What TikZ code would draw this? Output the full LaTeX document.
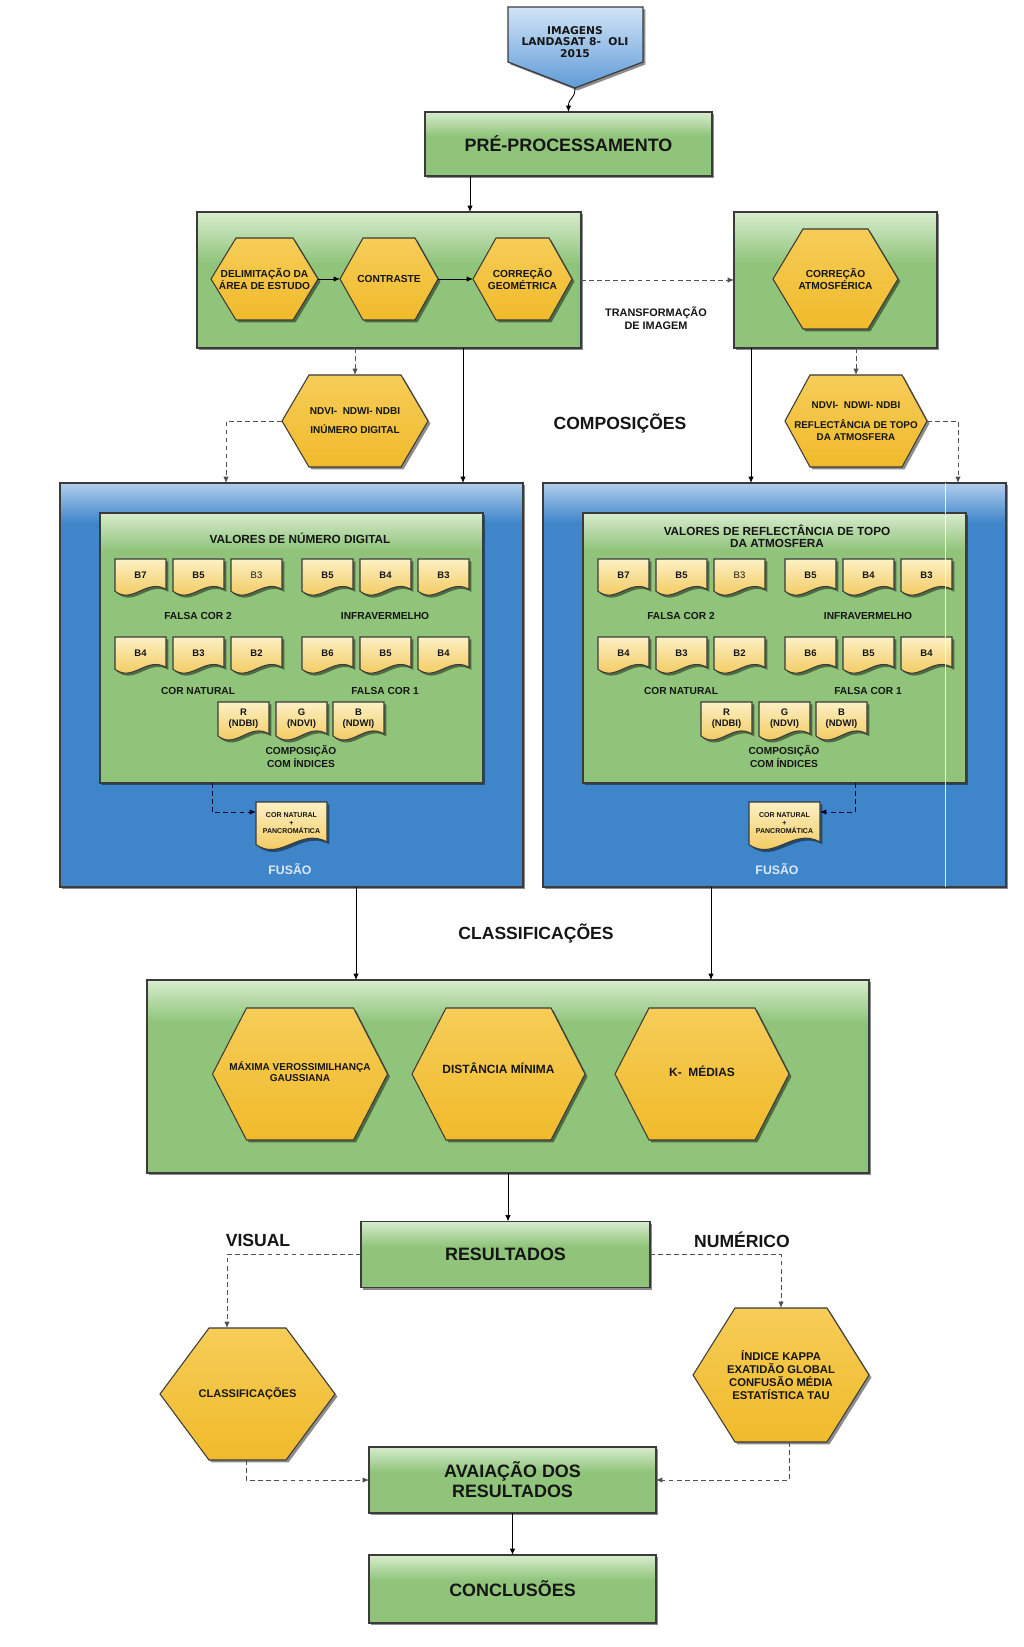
\documentclass[tikz,border=0pt]{standalone}
\usepackage{fontspec}
\setmainfont{Liberation Sans}
\newfontfamily\verdfont{DejaVu Sans}
\usetikzlibrary{shadows,arrows.meta}
\definecolor{gtop}{HTML}{D7ECCD}
\definecolor{gmid}{HTML}{8FC47A}
\definecolor{btop}{HTML}{B0CDEC}
\definecolor{bmid}{HTML}{3E85C9}
\definecolor{htop}{HTML}{F6CD58}
\definecolor{hbot}{HTML}{F0BA2A}
\definecolor{dtop}{HTML}{FCF0C4}
\definecolor{dbot}{HTML}{F1C24A}
\definecolor{edge}{HTML}{3B3B3B}
\definecolor{ibtop}{HTML}{D2E4F6}
\definecolor{ibbot}{HTML}{5F9BD8}
\definecolor{txt}{HTML}{151515}
\definecolor{fus}{HTML}{DCEAF8}
\definecolor{dgray}{HTML}{505050}
\pgfdeclareverticalshading{gshA}{100bp}{color(0bp)=(gmid); color(25bp)=(gmid); color(56bp)=(gmid); color(75bp)=(gtop); color(100bp)=(gtop)}
\pgfdeclareverticalshading{gshB}{100bp}{color(0bp)=(gmid); color(25bp)=(gmid); color(64bp)=(gmid); color(75bp)=(gtop); color(100bp)=(gtop)}
\pgfdeclareverticalshading{gshC}{100bp}{color(0bp)=(gmid); color(25bp)=(gmid); color(68bp)=(gmid); color(75bp)=(gtop); color(100bp)=(gtop)}
\pgfdeclareverticalshading{bsh}{100bp}{color(0bp)=(bmid); color(25bp)=(bmid); color(70bp)=(bmid); color(75bp)=(btop); color(100bp)=(btop)}
\newcommand{\myfimg}{\verdfont\bfseries\fontsize{6.1}{6.4}\selectfont}
\newcommand{\myfbig}{\bfseries\fontsize{10.2}{11.4}\selectfont}
\newcommand{\myfhex}{\bfseries\fontsize{5.8}{6.3}\selectfont}
\newcommand{\myftr}{\bfseries\fontsize{6.2}{7.2}\selectfont}
\newcommand{\myfsec}{\bfseries\fontsize{10}{12}\selectfont}
\newcommand{\myftit}{\bfseries\fontsize{6.7}{7}\selectfont}
\newcommand{\myfdoc}{\bfseries\fontsize{5.4}{6.6}\selectfont}
\newcommand{\myfgl}{\bfseries\fontsize{5.8}{6.2}\selectfont}
\newcommand{\myffd}{\bfseries\fontsize{4}{4.6}\selectfont}
\newcommand{\hexn}[8][]{%
  \path[hexsty] ({#3-#5/2},{#4}) -- ({#3-#5/2+#7},{#4-#6/2}) -- ({#3+#5/2-#7},{#4-#6/2}) -- ({#3+#5/2},{#4}) -- ({#3+#5/2-#7},{#4+#6/2}) -- ({#3-#5/2+#7},{#4+#6/2}) -- cycle;
  \node[hextxt,bw={#5},bh={#6},#1] (#2) at ({#3},{#4}) {#8};}
\newcommand{\docn}[7][]{%
  \path[docsty] ({#3},{#4}) -- ({#3+#5},{#4}) -- ({#3+#5},{#4+0.8*#6}) .. controls ({#3+0.62*#5},{#4+0.5*#6}) and ({#3+0.35*#5},{#4+1.2*#6}) .. ({#3},{#4+0.85*#6}) -- cycle;
  \node[doctxt,bw={#5},bh={0.84*#6},#1] (#2) at ({#3+#5/2},{#4+0.42*#6}) {#7};}
\newcommand{\bandset}[2]{%
  \foreach \ii/\xx/\yy/\tx in {a/115/559/B7, b/173/559/B5, c/231/559/{\mdseries B3}, d/302/559/B5, e/360/559/B4, f/418/559/B3, g/115/637/B4, h/173/637/B3, i/231/637/B2, j/302/637/B6, k/360/637/B5, l/418/637/B4}
    {\docn{#1\ii}{\xx+#2}{\yy}{51}{38}{\tx}}
  \docn{#1r}{218+#2}{702}{51}{40}{R\\(NDBI)}
  \docn{#1s}{276+#2}{702}{51}{40}{G\\(NDVI)}
  \docn{#1t}{333+#2}{702}{51}{40}{B\\(NDWI)}
  \node[lbl,font=\myfgl] (#1fc2) at ({198+#2},616) {FALSA COR 2};
  \node[lbl,font=\myfgl] (#1inf) at ({385+#2},616) {INFRAVERMELHO};
  \node[lbl,font=\myfgl] (#1cn) at ({198+#2},691) {COR NATURAL};
  \node[lbl,font=\myfgl] (#1fc1) at ({385+#2},691) {FALSA COR 1};
  \node[lbl,font=\myfgl] (#1cmp) at ({301+#2},756.5) {COMPOSIÇÃO\\COM ÍNDICES};}
\begin{document}
\begin{tikzpicture}[x=0.02cm,y=-0.02cm,
  bw/.style={minimum width={(#1)*0.02cm}},
  bh/.style={minimum height={(#1)*0.02cm}},
  shad/.style={drop shadow={shadow xshift=1.4pt,shadow yshift=-1.4pt,opacity=0.45,fill=black}},
  gbox/.style={draw=edge,line width=0.7pt,shade,shading=gshA,shad,inner sep=0pt,outer sep=0pt,align=center,text=txt},
  gboxB/.style={gbox,shading=gshB},
  gboxC/.style={gbox,shading=gshC},
  bbox/.style={draw=edge,line width=0.7pt,shade,shading=bsh,shad,inner sep=0pt,outer sep=0pt},
  banner/.style={draw=edge,line width=0.7pt,top color=ibtop,bottom color=ibbot,shad},
  hexsty/.style={draw=edge,line width=0.6pt,top color=htop,bottom color=hbot,shad},
  hextxt/.style={inner sep=0pt,outer sep=0pt,align=center,text=txt,font=\myfhex},
  docsty/.style={draw=edge,line width=0.6pt,top color=dtop,bottom color=dbot,shad},
  doctxt/.style={inner sep=0pt,outer sep=0pt,align=center,text=txt,font=\myfdoc},
  lbl/.style={inner sep=0pt,outer sep=0pt,align=center,text=txt},
  conn/.style={line width=0.5pt,draw=black,-{Latex[length=3.6pt,width=3pt]}},
  dconn/.style={conn,draw=dgray,dash pattern=on 2.6pt off 2pt}]
\fill[white] (0,0) rectangle (1024,1647);
\useasboundingbox (0,0) rectangle (1024,1647);
% top
\path[banner] (508,7) -- (643,7) -- (643,62) -- (575,88) -- (508,62) -- cycle;
\node[lbl,font=\myfimg] (imag) at (575,42) {IMAGENS\\LANDASAT 8-\ \ OLI\\2015};
\coordinate (imagtip) at (575,88);
\node[gbox,bw=287,bh=64,font=\myfbig] (pre) at (568.5,144) {PRÉ-PROCESSAMENTO};
\draw[conn] (imagtip) .. controls (575,100) and (568.5,97) .. (pre.north);
% pre-processing row
\node[gbox,bw=384,bh=136] (box1) at (389,280) {};
\node[gbox,bw=203,bh=136] (box2) at (835.5,280) {};
\draw[conn] (470,0 |- pre.south) -- (470,0 |- box1.north);
\hexn{delim}{264.5}{279}{107}{82}{25}{DELIMITAÇÃO DA\\ÁREA DE ESTUDO}
\hexn{contr}{389}{279}{98}{82}{23}{CONTRASTE}
\hexn{geom}{522.5}{279}{99}{82}{23}{CORREÇÃO\\GEOMÉTRICA}
\hexn{atm}{835.5}{279}{125}{100}{30}{CORREÇÃO\\ATMOSFÉRICA}
\draw[conn] (delim.east) -- (contr.west);
\draw[conn] (contr.east) -- (geom.west);
\draw[dconn] (box1.east) -- (box2.west);
\node[lbl,font=\myftr] (transf) at (656,318) {TRANSFORMAÇÃO\\DE IMAGEM};
% index hexagons
\hexn[font={\bfseries\fontsize{5.7}{10.8}\selectfont}]{ndvi1}{355}{421}{146}{92}{27}{NDVI-\ \ NDWI-\ NDBI\\INÚMERO DIGITAL}
\hexn[font={\bfseries\fontsize{5.6}{6.6}\selectfont}]{ndvi2}{856}{421}{142}{92}{25}{NDVI-\ \ NDWI-\ NDBI\\[5pt]REFLECTÂNCIA DE TOPO\\DA ATMOSFERA}
\node[lbl,font=\myfsec] (lcomp) at (620,423) {COMPOSIÇÕES};
% blue panels
\node[bbox,bw=463,bh=404] (blue1) at (291.5,685) {};
\node[bbox,bw=463,bh=404] (blue2) at (774.5,685) {};
\node[gboxC,bw=383,bh=270] (in1) at (291.5,648) {};
\node[gboxC,bw=383,bh=270] (in2) at (774.5,648) {};
\node[lbl,font=\myftit] (tit1) at (300,538) {VALORES DE NÚMERO DIGITAL};
\node[lbl,font=\myftit] (tit2) at (777,536) {VALORES DE REFLECTÂNCIA DE TOPO\\DA ATMOSFERA};
\bandset{p}{0}
\bandset{q}{483}
\docn[font=\myffd]{fus1}{256}{802}{71}{50}{COR NATURAL\\+\\PANCROMÁTICA}
\docn[font=\myffd]{fus2}{749}{802}{71}{50}{COR NATURAL\\+\\PANCROMÁTICA}
\node[lbl,font={\bfseries\fontsize{7}{8}\selectfont},text=fus] (lfus1) at (290,869) {FUSÃO};
\node[lbl,font={\bfseries\fontsize{7}{8}\selectfont},text=fus] (lfus2) at (777,869) {FUSÃO};
\draw[white,line width=0.5pt,opacity=0.85] (945,0 |- blue2.north) -- (945,0 |- blue2.south);
\draw[dconn,draw=black!80!blue] (212,0 |- in1.south) |- ([yshift=-0.2cm]fus1.north west);
\draw[dconn,draw=black!80!blue] (855,0 |- in2.south) |- ([yshift=-0.2cm]fus2.north east);
% connectors into the panels
\draw[dconn] (box1.south -| ndvi1.north) -- (ndvi1.north);
\draw[dconn] (box2.south -| ndvi2.north) -- (ndvi2.north);
\draw[conn] (463,0 |- box1.south) -- (463,0 |- blue1.north);
\draw[conn] (751,0 |- box2.south) -- (751,0 |- blue2.north);
\draw[dconn] (ndvi1.west) -| (226,0 |- blue1.north);
\draw[dconn] (ndvi2.east) -| (958,0 |- blue2.north);
% classification
\node[lbl,font=\myfsec] (lclass) at (536,933) {CLASSIFICAÇÕES};
\node[gboxB,bw=722,bh=193] (class) at (508,1076.5) {};
\draw[conn] (356,0 |- blue1.south) -- (356,0 |- class.north);
\draw[conn] (711,0 |- blue2.south) -- (711,0 |- class.north);
\hexn[font={\bfseries\fontsize{5.7}{6.4}\selectfont},yshift=0.05cm]{mv}{300}{1074}{175}{132}{34}{MÁXIMA VEROSSIMILHANÇA\\GAUSSIANA}
\hexn[font={\bfseries\fontsize{6.8}{7.5}\selectfont},yshift=0.12cm]{dm}{498.5}{1074}{173}{132}{34}{DISTÂNCIA MÍNIMA}
\hexn[font={\bfseries\fontsize{6.8}{7.5}\selectfont},yshift=0.06cm]{km}{702}{1074}{174}{132}{34}{K-\ \ MÉDIAS}
% results
\node[gbox,bw=289,bh=66,font=\myfbig] (res) at (505.5,1254.5) {RESULTADOS};
\draw[conn] (508,0 |- class.south) -- (508,0 |- res.north);
\node[lbl,font=\myfsec] (lvis) at (258,1240) {VISUAL};
\node[lbl,font=\myfsec] (lnum) at (742,1240) {NUMÉRICO};
\hexn[font={\bfseries\fontsize{6.3}{7}\selectfont}]{clh}{247.5}{1394}{175}{132}{49}{CLASSIFICAÇÕES}
\hexn[font={\bfseries\fontsize{6.4}{7.4}\selectfont}]{num}{781}{1375}{176}{134}{42}{ÍNDICE KAPPA\\EXATIDÃO GLOBAL\\CONFUSÃO MÉDIA\\ESTATÍSTICA TAU}
\draw[dconn] (res.west) -| (227,0 |- clh.north);
\draw[dconn] (res.east) -| (num.north);
\node[gbox,bw=287,bh=66,font=\myfbig] (eval) at (512.5,1480) {AVAIAÇÃO DOS\\RESULTADOS};
\node[gbox,bw=287,bh=68,font=\myfbig] (concl) at (512.5,1589) {CONCLUSÕES};
\draw[dconn] (246,0 |- clh.south) |- (eval.west);
\draw[dconn] (789,0 |- num.south) |- (eval.east);
\draw[conn] (eval.south) -- (concl.north);
\end{tikzpicture}
\end{document}
